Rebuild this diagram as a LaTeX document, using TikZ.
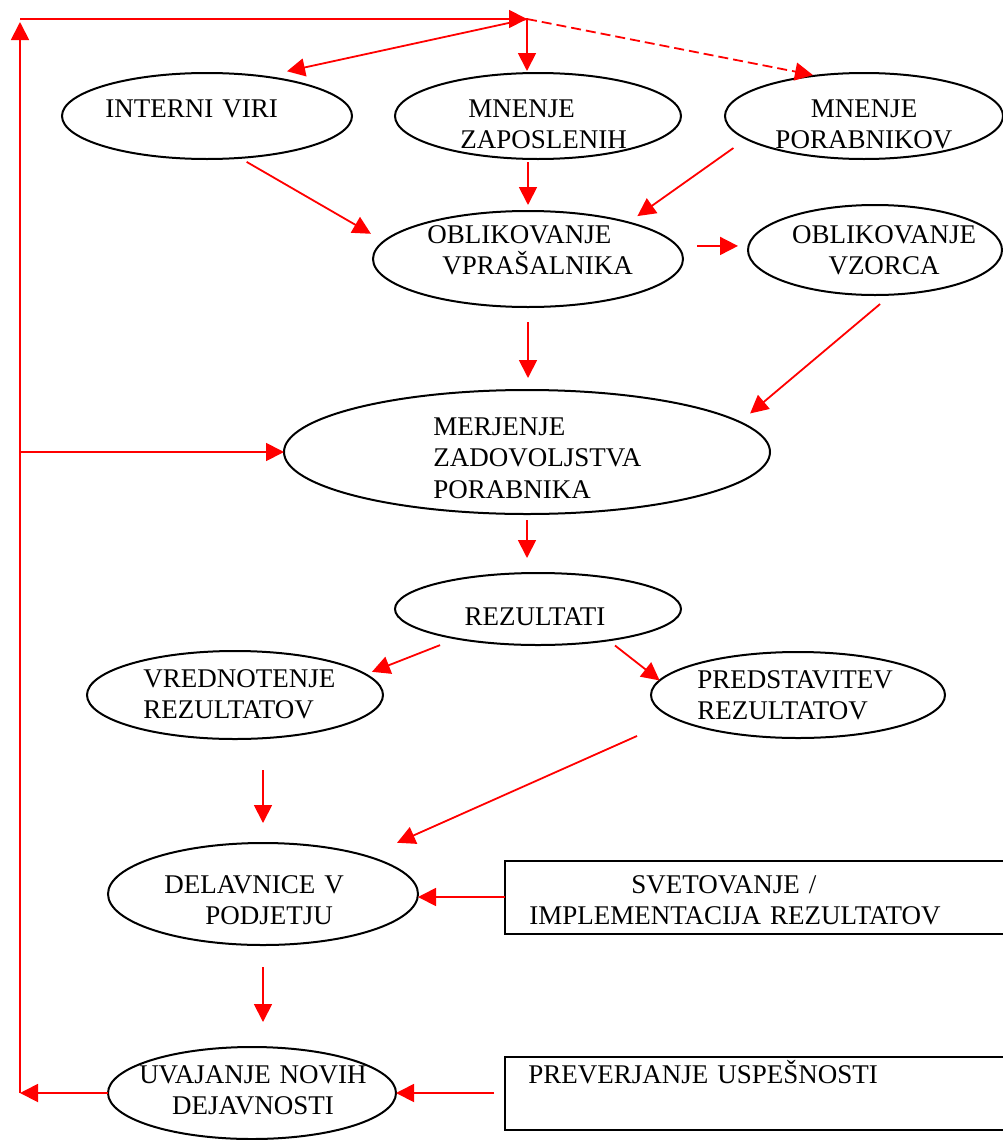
\documentclass[tikz,border=0pt]{standalone}
\usepackage{fontspec}
\setmainfont{Liberation Serif}
\usetikzlibrary{arrows.meta, shapes.geometric}

\begin{document}
\begin{tikzpicture}[x=0.5pt, y=-0.5pt,
  font=\fontsize{13.5pt}{15.75pt}\selectfont,
  oval/.style={draw, ellipse, line width=1pt, inner sep=0pt, outer sep=0pt},
  box/.style={draw, line width=1pt, inner sep=0pt, outer sep=0pt,
    minimum width=249.5pt, minimum height=36.5pt},
  lbl/.style={inner sep=0pt, text width=220pt, align=left, anchor=base west},
  clbl/.style={lbl, align=center, anchor=base},
  link/.style={red, line width=0.9pt, -{Triangle[length=9pt, width=9pt]}}]
  \useasboundingbox (0,0) rectangle (1002,1140);
  % sources
  \node[oval, minimum width=145pt, minimum height=43pt] (viri) at (207,116) {};
  \node[oval, minimum width=143pt, minimum height=43pt] (zap) at (538,116) {};
  \node[oval, minimum width=139pt, minimum height=43pt] (por) at (864,116) {};
  \node[lbl] (tviri) at (105,117) {INTERNI VIRI};
  \node[lbl] (tzap) at (460,117) {\hspace*{4pt}MNENJE\\ZAPOSLENIH};
  \node[clbl] (tpor) at (864,117) {MNENJE\\PORABNIKOV};
  % design
  \node[oval, minimum width=155pt, minimum height=48pt] (vpr) at (528,259) {};
  \node[oval, minimum width=127pt, minimum height=45pt] (vzo) at (875,250) {};
  \node[lbl] (tvpr) at (427,243) {OBLIKOVANJE\\\hspace*{7.5pt}VPRAŠALNIKA};
  \node[clbl] (tvzo) at (884,243) {OBLIKOVANJE\\VZORCA};
  % measuring
  \node[oval, minimum width=243pt, minimum height=62pt] (mer) at (527,452) {};
  \node[lbl] (tmer) at (433,435) {MERJENJE\\ZADOVOLJSTVA\\PORABNIKA};
  \node[oval, minimum width=143pt, minimum height=36pt] (rez) at (538,609) {};
  \node[clbl] (trez) at (535,625) {REZULTATI};
  % results
  \node[oval, minimum width=148pt, minimum height=44pt] (vre) at (235,695) {};
  \node[oval, minimum width=147pt, minimum height=43pt] (pred) at (798,695) {};
  \node[lbl] (tvre) at (143,687) {VREDNOTENJE\\REZULTATOV};
  \node[lbl] (tpred) at (697,688) {PREDSTAVITEV\\REZULTATOV};
  % actions
  \node[oval, minimum width=155pt, minimum height=51pt] (del) at (263,894) {};
  \node[lbl] (tdel) at (164,893) {DELAVNICE V\\\hspace*{20.5pt}PODJETJU};
  \node[box] (svet) at (754.5,897) {};
  \node[lbl] (tsvet) at (529,893) {\hspace*{51pt}SVETOVANJE /\\IMPLEMENTACIJA REZULTATOV};
  \node[oval, minimum width=144pt, minimum height=46pt] (uva) at (252,1093) {};
  \node[clbl] (tuva) at (253,1083) {UVAJANJE NOVIH\\DEJAVNOSTI};
  \node[box] (prev) at (754.5,1093.5) {};
  \node[lbl] (tprev) at (528,1083) {PREVERJANJE USPEŠNOSTI};
  % feedback loop
  \coordinate (hub) at (527,19);
  \coordinate (tl) at (20,19);
  \coordinate (bl) at (20,1093);
  \draw[link] (uva.west) -- (bl);
  \draw[link, shorten >=1.5pt] (bl) -- (tl);
  \draw[link] (tl) -- (hub);
  \draw[link] (bl |- mer.west) -- (mer.west);
  % from the hub
  \draw[link, shorten >=1pt] (hub) -- (hub |- zap.north);
  \draw[link, shorten >=12pt] (hub) -- (viri.35);
  \draw[link, dash pattern=on 5pt off 2.5pt, shorten >=1.5pt] (hub) -- (por.140);
  % into the questionnaire
  \draw[link, shorten <=4pt, shorten >=7.5pt] (viri.-52) -- (vpr.173);
  \draw[link, shorten <=1.5pt, shorten >=3pt] (zap.south -| vpr.north) -- (vpr.north);
  \draw[link, shorten <=7.9pt, shorten >=5.5pt] (por.191) -- (vpr.20);
  \draw[link, shorten <=10pt, shorten >=5pt] (vpr.5.85) -- (vpr.5.85 -| vzo.west);
  % measuring and results
  \draw[link, shorten <=7.5pt, shorten >=6pt] (vpr.south) -- (vpr.south |- mer.north);
  \draw[link, shorten <=7.3pt, shorten >=6.7pt] (vzo.-70) -- (mer.8);
  \draw[link, shorten <=3pt, shorten >=7.5pt] (mer.south) -- (mer.south |- rez.north);
  \draw[link, shorten <=8.9pt, shorten >=3.4pt] (rez.200) -- (vre.9);
  \draw[link, shorten <=4.2pt] (rez.-24) -- (pred.174);
  % workshops and new activities
  \draw[link, shorten <=15.5pt, shorten >=10pt] (del.north |- vre.south) -- (del.north);
  \draw[link, shorten <=21.1pt, shorten >=16.5pt] (pred.191) -- (del.20);
  \draw[link] (svet.west) -- (svet.west -| del.east);
  \draw[link, shorten <=11pt, shorten >=12.5pt] (del.south) -- (del.south |- uva.north);
  \draw[link, shorten <=5.5pt] (uva.east -| prev.west) -- (uva.east);
\end{tikzpicture}
\end{document}
